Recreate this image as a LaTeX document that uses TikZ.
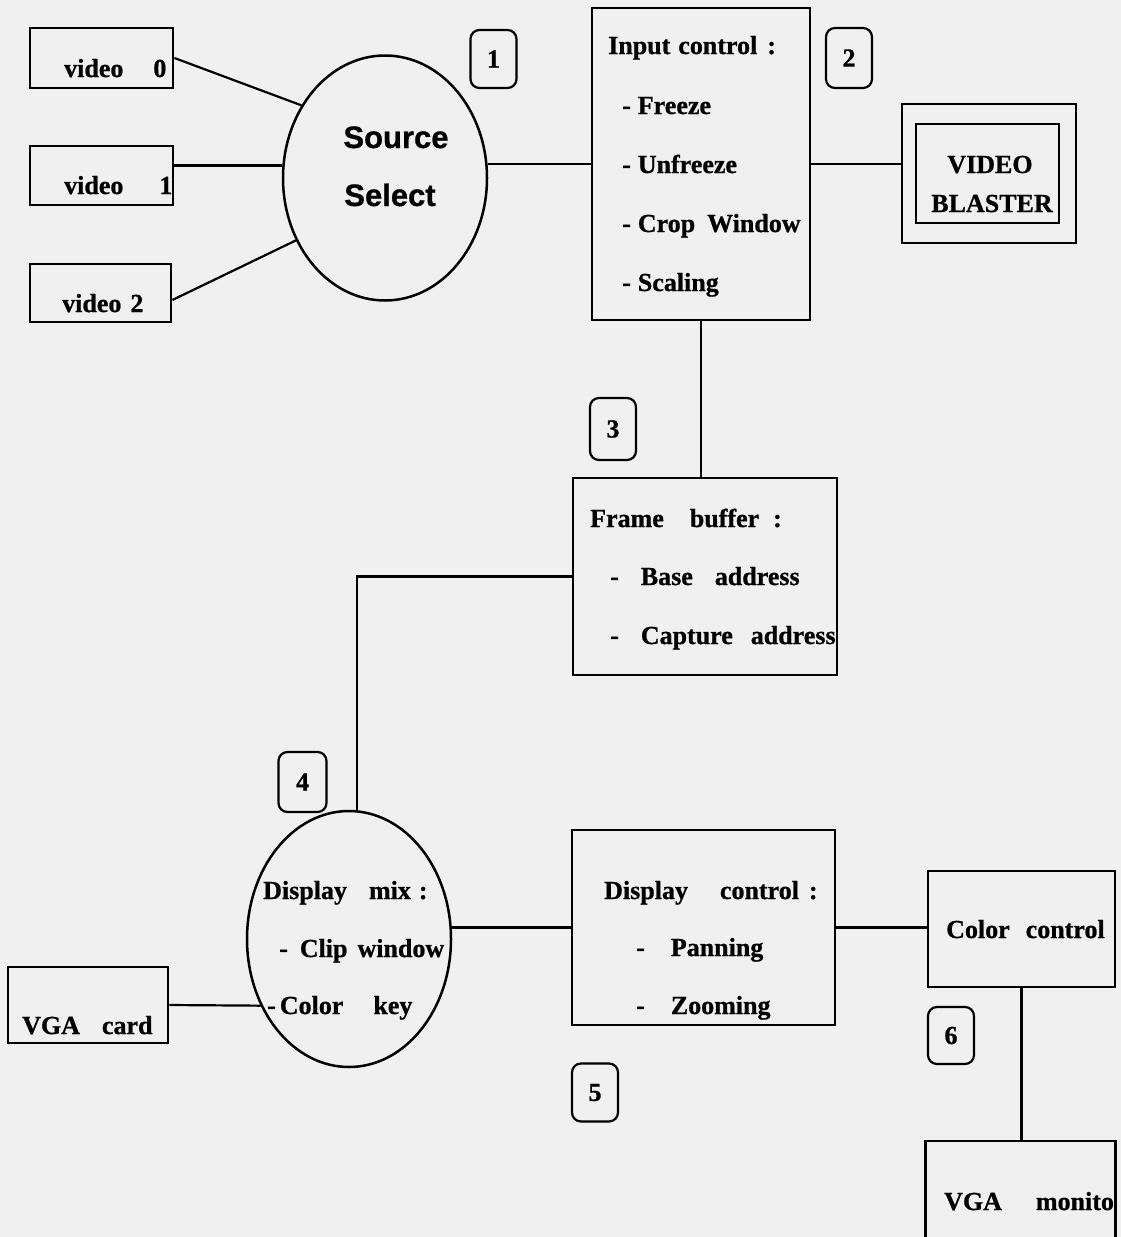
\documentclass[tikz,border=0pt]{standalone}
\usepackage{fontspec}
\setmainfont{Liberation Serif}[BoldFeatures={FakeBold=0.8}]
\newfontfamily\sansfam{Liberation Sans}[BoldFeatures={FakeBold=0.8}]
\usetikzlibrary{shapes.geometric}
\begin{document}
\begin{tikzpicture}[x=1pt,y=-1pt,
  rect/.style 2 args={draw,line width=2.8pt,inner sep=0pt,minimum width=#1,minimum height=#2},
  oval/.style 2 args={draw,ellipse,line width=2.5pt,inner sep=0pt,minimum width=#1,minimum height=#2},
  badge/.style={draw,rounded corners=9pt,line width=2.2pt,inner sep=0pt,minimum width=46pt,minimum height=58pt,font=\fontsize{26}{30}\selectfont\bfseries},
  txt/.style={anchor=base west,inner sep=0pt,font=\fontsize{26}{30}\selectfont\bfseries},
  ctxt/.style={anchor=base,inner sep=0pt,font=\fontsize{26}{30}\selectfont\bfseries},
  wire/.style={line width=2.2pt}]
\fill[black!6] (0,0) rectangle (1121,1237);
\useasboundingbox (0,0) rectangle (1121,1237);
\clip (0,0) rectangle (1121,1237);

% video sources
\node[rect={143}{60}] (v0) at (101.5,58) {};
\node[rect={143}{59}] (v1) at (101.5,175.5) {};
\node[rect={141}{58}] (v2) at (100.5,293) {};
\node[txt] (tv0) at (64,77) {video\hspace{30pt}0};
\node[txt] (tv1) at (64,194) {video\hspace{36pt}1};
\node[txt] (tv2) at (62,312) {video\hspace{9pt}2};

% source select
\node[oval={204}{245}] (ss) at (385,178) {};
\node[anchor=base,inner sep=0pt,font=\fontsize{31}{34}\selectfont\sansfam\bfseries] (tss1) at (396,148) {Source};
\node[anchor=base,inner sep=0pt,font=\fontsize{31}{34}\selectfont\sansfam\bfseries] (tss2) at (390,206) {Select};
\node[badge] (b1) at (493.5,59) {1};

% input control
\node[rect={218}{312}] (ic) at (701,164) {};
\node[txt] (tic0) at (608,54) {Input\hspace{8pt}control\hspace{10pt}:};
\node[txt] (tic1) at (622,114) {-\hspace{7pt}Freeze};
\node[txt] (tic2) at (622,173) {-\hspace{7pt}Unfreeze};
\node[txt] (tic3) at (622,232) {-\hspace{7pt}Crop\hspace{12pt}Window};
\node[txt] (tic4) at (622,291) {-\hspace{7pt}Scaling};
\node[badge,minimum height=60pt] (b2) at (849,58) {2};

% video blaster
\node[rect={174}{139}] (vbo) at (989,173.5) {};
\node[rect={143}{99}] (vbi) at (987.5,173.5) {};
\node[ctxt] (tvb1) at (990,173) {VIDEO};
\node[ctxt] (tvb2) at (992,212) {BLASTER};

% frame buffer
\node[badge,minimum height=62pt] (b3) at (613,429) {3};
\node[rect={264}{197}] (fb) at (705,576.5) {};
\node[txt] (tfb0) at (590,527) {Frame\hspace{26pt}buffer\hspace{14pt}:};
\node[txt] (tfb1) at (610,585) {-\hspace{22pt}Base\hspace{22pt}address};
\node[txt] (tfb2) at (610,644) {-\hspace{22pt}Capture\hspace{18pt}address};

% display mix
\node[badge,minimum width=48pt,minimum height=60pt] (b4) at (302.5,782) {4};
\node[oval={204}{256}] (dm) at (349,939) {};
\node[txt] (tdm0) at (263,899) {Display\hspace{22pt}mix\hspace{8pt}:};
\node[txt] (tdm1) at (279,957) {-\hspace{12pt}Clip\hspace{10pt}window};
\node[txt] (tdm2) at (267,1014) {-\hspace{4pt}Color\hspace{30pt}key};

% VGA card
\node[rect={160}{76}] (vc) at (88,1005) {};
\node[txt] (tvc) at (22,1034) {VGA\hspace{22pt}card};

% display control
\node[rect={263}{195}] (dc) at (703.5,927.5) {};
\node[txt] (tdc0) at (604,899) {Display\hspace{32pt}control\hspace{10pt}:};
\node[txt] (tdc1) at (636,956) {-\hspace{26pt}Panning};
\node[txt] (tdc2) at (636,1014) {-\hspace{26pt}Zooming};
\node[badge] (b5) at (595,1092.5) {5};

% color control
\node[rect={187}{116}] (cc) at (1021.5,929) {};
\node[txt] (tcc) at (946,938) {Color\hspace{16pt}control};
\node[badge,minimum height=57pt] (b6) at (951,1035.5) {6};

% VGA monitor
\node[rect={190}{130}] (vm) at (1020.5,1206) {};
\node[txt] (tvm) at (944,1210) {VGA\hspace{34pt}monito};

% connectors
\draw[wire] (v0.east) -- (ss.139);
\draw[wire] ([yshift=10pt]v1.east) -- ([yshift=10pt]v1.east -| ss.west);
\draw[wire] ([yshift=-7pt]v2.east) -- (ss.215);
\draw[wire] (ic.west -| ss.east) -- (ic.west);
\draw[wire] (ic.east) -- (ic.east -| vbo.west);
\draw[wire] (ic.south) -- (ic.south |- fb.north);
\draw[wire] (fb.west) -| ([xshift=8pt]dm.north);
\draw[wire] (dc.west -| dm.east) -- (dc.west);
\draw[wire] (vc.east) -- (dm.217);
\draw[wire] (dc.east) -- (dc.east -| cc.west);
\draw[wire] (cc.south) -- (cc.south |- vm.north);
\end{tikzpicture}
\end{document}
